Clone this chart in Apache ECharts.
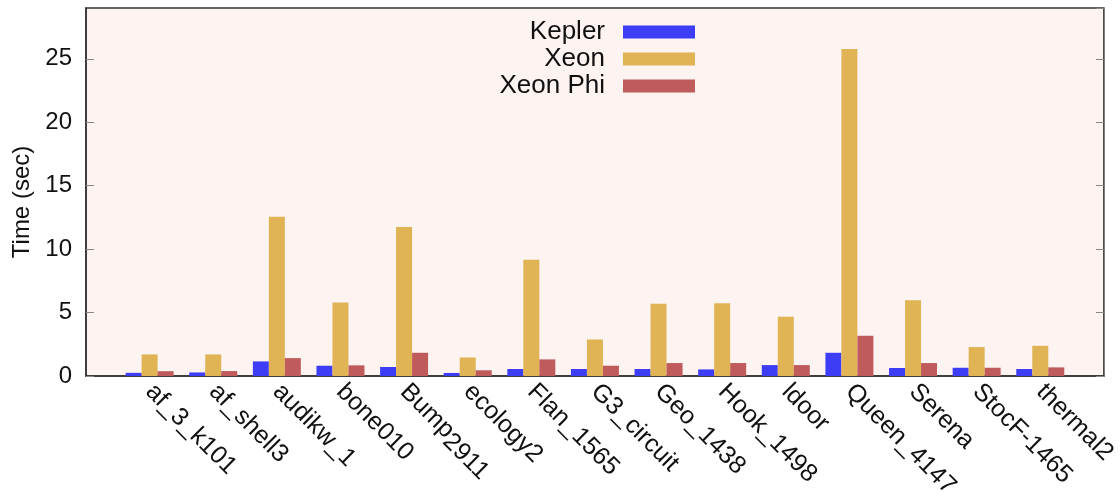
<!DOCTYPE html>
<html>
<head>
<meta charset="utf-8">
<script src="https://cdn.jsdelivr.net/npm/echarts@6/dist/echarts.min.js"></script>
<style>
  html, body { margin: 0; padding: 0; background: #ffffff; }
  #chart { width: 1120px; height: 502px; }
</style>
</head>
<body>
<div id="chart"></div>
<script>
// Sparse matrix benchmarks
const categories = ['af_3_k101', 'af_shell3', 'audikw_1', 'bone010', 'Bump_2911', 'ecology2',
  'Flan_1565', 'G3_circuit', 'Geo_1438', 'Hook_1498', 'ldoor', 'Queen_4147', 'Serena',
  'StocF-1465', 'thermal2'];

// Execution time in seconds
const kepler   = [0.25, 0.28, 1.15, 0.81, 0.71, 0.24, 0.55, 0.55, 0.55, 0.52, 0.86, 1.83, 0.63, 0.65, 0.55];
const xeon     = [1.70, 1.70, 12.55, 5.80, 11.74, 1.46, 9.17, 2.88, 5.69, 5.74, 4.66, 25.76, 5.97, 2.28, 2.38];
const xeonPhi  = [0.38, 0.39, 1.41, 0.84, 1.83, 0.45, 1.31, 0.81, 1.02, 1.02, 0.86, 3.17, 1.02, 0.65, 0.68];

const yTicks = [0, 5, 10, 15, 20, 25];

const FONT = 'Liberation Sans, Arial, Helvetica, sans-serif';

// Padding slots on both ends so the x range runs one slot beyond the first and last group
const axisCats = [''].concat(categories, ['']);
const pad = arr => [null].concat(arr, [null]);

// "Bump_2911" is set with its suffix lowered, like a subscript
function catLabel(name) {
  if (name === 'Bump_2911') return 'Bump{sub|2911}';
  return name;
}

const chart = echarts.init(document.getElementById('chart'), null, { renderer: 'canvas' });

const barBase = {
  type: 'bar',
  barWidth: 16,
  barGap: '0%',
  animation: false
};

chart.setOption({
  backgroundColor: '#ffffff',
  textStyle: { fontFamily: FONT },
  grid: {
    left: 86, right: 16, top: 8, bottom: 126,
    show: true,
    backgroundColor: '#fdf3f1',
    borderColor: '#333333',
    borderWidth: 1.5
  },
  legend: {
    orient: 'vertical',
    right: 420,
    top: 14,
    align: 'right',
    itemWidth: 72,
    itemHeight: 13,
    itemGap: 1,
    icon: 'rect',
    textStyle: { fontSize: 26, color: '#111', fontFamily: FONT, padding: [0, 13, 0, 0], lineHeight: 26 },
    data: ['Kepler', 'Xeon', 'Xeon Phi']
  },
  xAxis: {
    type: 'category',
    data: axisCats,
    boundaryGap: false,
    axisLine: { show: true, lineStyle: { color: '#333', width: 1.5 } },
    axisTick: { show: false },
    splitLine: { show: false },
    axisLabel: {
      rotate: -45,
      interval: 0,
      margin: 12,
      fontSize: 25,
      color: '#111',
      fontFamily: FONT,
      formatter: catLabel,
      rich: {
        sub: { fontSize: 25, color: '#111', fontFamily: FONT, padding: [10, 0, 0, 0] }
      }
    }
  },
  yAxis: [{
    type: 'value',
    min: 0,
    max: 29,
    interval: 5,
    name: 'Time (sec)',
    nameLocation: 'middle',
    nameRotate: 90,
    nameGap: 43,
    nameTextStyle: { fontSize: 24, color: '#111', fontFamily: FONT, padding: [0, 20, 0, 0] },
    axisLine: { show: true, lineStyle: { color: '#333', width: 1.5 } },
    axisTick: { show: true, inside: true, length: 8, lineStyle: { color: '#888' } },
    splitLine: { show: false },
    axisLabel: {
      fontSize: 24, color: '#111', margin: 14, fontFamily: FONT,
      showMaxLabel: false,
      formatter: v => (yTicks.indexOf(v) >= 0 ? String(v) : '')
    }
  }, {
    type: 'value',
    position: 'right',
    min: 0,
    max: 29,
    interval: 5,
    axisLine: { show: false },
    axisTick: { show: true, inside: true, length: 8, lineStyle: { color: '#888' } },
    axisLabel: { show: false },
    splitLine: { show: false }
  }],
  series: [
    Object.assign({}, barBase, { name: 'Kepler', data: pad(kepler), itemStyle: { color: '#3d3df5' } }),
    Object.assign({}, barBase, { name: 'Xeon', data: pad(xeon), itemStyle: { color: '#e0b455' } }),
    Object.assign({}, barBase, { name: 'Xeon Phi', data: pad(xeonPhi), itemStyle: { color: '#c05b5b' } })
  ]
});
</script>
</body>
</html>
